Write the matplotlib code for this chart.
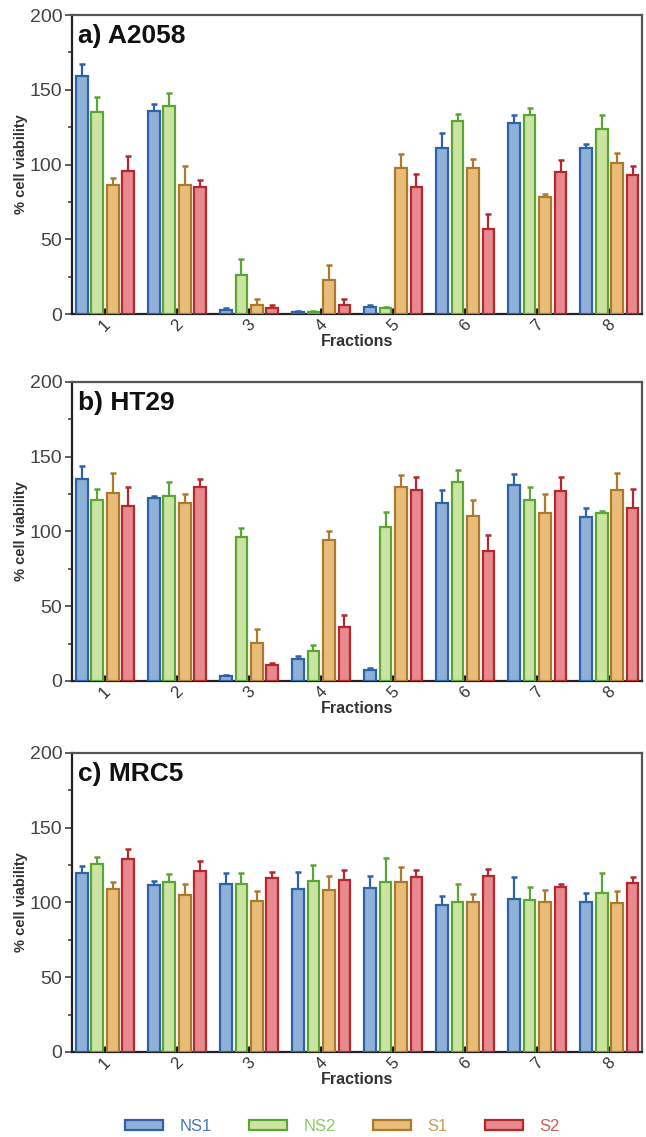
import numpy as np
import matplotlib
matplotlib.use("Agg")
import matplotlib.pyplot as plt

plt.rcParams['font.family'] = ['Liberation Sans', 'DejaVu Sans']

fractions = ['1', '2', '3', '4', '5', '6', '7', '8']
series = ['NS1', 'NS2', 'S1', 'S2']

# panel a) A2058 : mean values and upper error
a_ns1 = [159, 136, 3, 1.5, 5, 111, 128, 111]
a_ns2 = [135, 139, 26, 1.5, 4, 129, 133, 124]
a_s1 = [86, 86, 6, 23, 98, 98, 78.5, 101]
a_s2 = [96, 85, 4, 6, 85, 57, 95, 93]
a_ns1_err = [8, 4.5, 1, 0.5, 1, 10, 5, 2.5]
a_ns2_err = [10, 9, 11, 0.5, 1, 5, 4.5, 9]
a_s1_err = [5, 13, 4, 10, 9, 6, 1.5, 7]
a_s2_err = [10, 4.5, 2, 4, 8.5, 10, 8, 6]

# panel b) HT29
b_ns1 = [135, 122.5, 3, 14.5, 7.5, 119, 131, 109.5]
b_ns2 = [121, 123.5, 96.5, 20, 103, 133, 121, 112]
b_s1 = [125.5, 119, 25.5, 94, 130, 110.5, 112, 128]
b_s2 = [117, 130, 11, 36, 128, 87, 127, 116]
b_ns1_err = [9, 1, 1, 2, 1, 9, 7.5, 6.5]
b_ns2_err = [7.5, 9.5, 6, 4, 10, 8, 9, 2]
b_s1_err = [13.5, 6, 9, 6, 8, 10.5, 13, 11]
b_s2_err = [13, 5, 1, 8, 8.5, 10.5, 9.5, 12.5]

# panel c) MRC5
c_ns1 = [120, 111.5, 112, 109, 109.5, 98.5, 102, 100]
c_ns2 = [125.5, 113.5, 112, 114.5, 114, 100.5, 101.5, 106]
c_s1 = [109, 105, 101, 108, 114, 100.5, 100.5, 99.5]
c_s2 = [129, 121, 116.5, 115, 117, 117.5, 110.5, 113]
c_ns1_err = [4.5, 3, 7.5, 11.5, 8, 6, 15, 6]
c_ns2_err = [5, 5.5, 8, 10.5, 15.5, 11.5, 9, 13.5]
c_s1_err = [4.5, 7, 6.5, 10, 9.5, 5, 8, 8]
c_s2_err = [7, 6.5, 4, 6.5, 4.5, 5, 2, 4]

panels = [
    ('a) A2058', [a_ns1, a_ns2, a_s1, a_s2], [a_ns1_err, a_ns2_err, a_s1_err, a_s2_err]),
    ('b) HT29', [b_ns1, b_ns2, b_s1, b_s2], [b_ns1_err, b_ns2_err, b_s1_err, b_s2_err]),
    ('c) MRC5', [c_ns1, c_ns2, c_s1, c_s2], [c_ns1_err, c_ns2_err, c_s1_err, c_s2_err]),
]

edge_colors = ['#2f62a6', '#5ba534', '#ad7a2b', '#b3292c']
fill_colors = ['#8eb0d9', '#cbe4a1', '#e9bc7a', '#e8888f']
text_colors = ['#4a78b8', '#8ccb68', '#c89d5c', '#cc5d60']

fig = plt.figure(figsize=(6.46, 11.37), dpi=100)

left, width, height = 0.1115, 0.883, 0.263
bottoms = [0.7238, 0.4011, 0.0748]

x = np.arange(1, len(fractions) + 1)
step = 0.215
bw = 0.165

for (title, vals, errs), bot in zip(panels, bottoms):
    ax = fig.add_axes([left, bot, width, height])
    for i in range(4):
        pos = x + (i - 1.5) * step
        v = np.array(vals[i])
        e = np.array(errs[i])
        ax.errorbar(pos, v, yerr=[np.zeros_like(e), e], fmt='none',
                    ecolor=edge_colors[i], elinewidth=1.6, capsize=2.3,
                    capthick=1.8, zorder=2)
        ax.bar(pos, v, width=bw, color=fill_colors[i], edgecolor=edge_colors[i],
               linewidth=1.6, label=series[i], zorder=3)
    ax.set_xlim(0.54, 8.46)
    ax.set_ylim(0, 200)
    ax.set_yticks([0, 50, 100, 150, 200])
    ax.set_yticks([25, 75, 125, 175], minor=True)
    ax.set_xticks(x)
    ax.set_xticklabels(fractions, rotation=45, ha='center', va='top',
                       fontsize=12, color='#333333')
    ax.tick_params(axis='x', direction='in', length=4, width=2, pad=2)
    ax.tick_params(axis='y', which='major', direction='out', length=5, width=1.2,
                   labelsize=14, colors='#444444', pad=2)
    ax.tick_params(axis='y', which='minor', direction='out', length=3, width=1.2,
                   colors='#444444')
    for s in ['left', 'bottom']:
        ax.spines[s].set_color('#222222')
        ax.spines[s].set_linewidth(1.6)
    for s in ['top', 'right']:
        ax.spines[s].set_color('#555555')
        ax.spines[s].set_linewidth(1.6)
    ax.set_ylabel('% cell viability', fontsize=10.5, fontweight='bold',
                  color='#333333', labelpad=1)
    ax.set_xlabel('Fractions', fontsize=11.5, fontweight='bold', color='#333333',
                  labelpad=0)
    ax.text(0.01, 0.97, title, transform=ax.transAxes, ha='left', va='top',
            fontsize=19, fontweight='bold', color='#111111')

handles, labels = ax.get_legend_handles_labels()
fig.legend(handles, labels, loc='center', bbox_to_anchor=(0.53, 0.0095), ncol=4,
           frameon=False, fontsize=12, handlelength=2.3, handleheight=0.6,
           handletextpad=1.0, columnspacing=2.2, labelcolor=text_colors)

fig.savefig('out.png', dpi=100)
